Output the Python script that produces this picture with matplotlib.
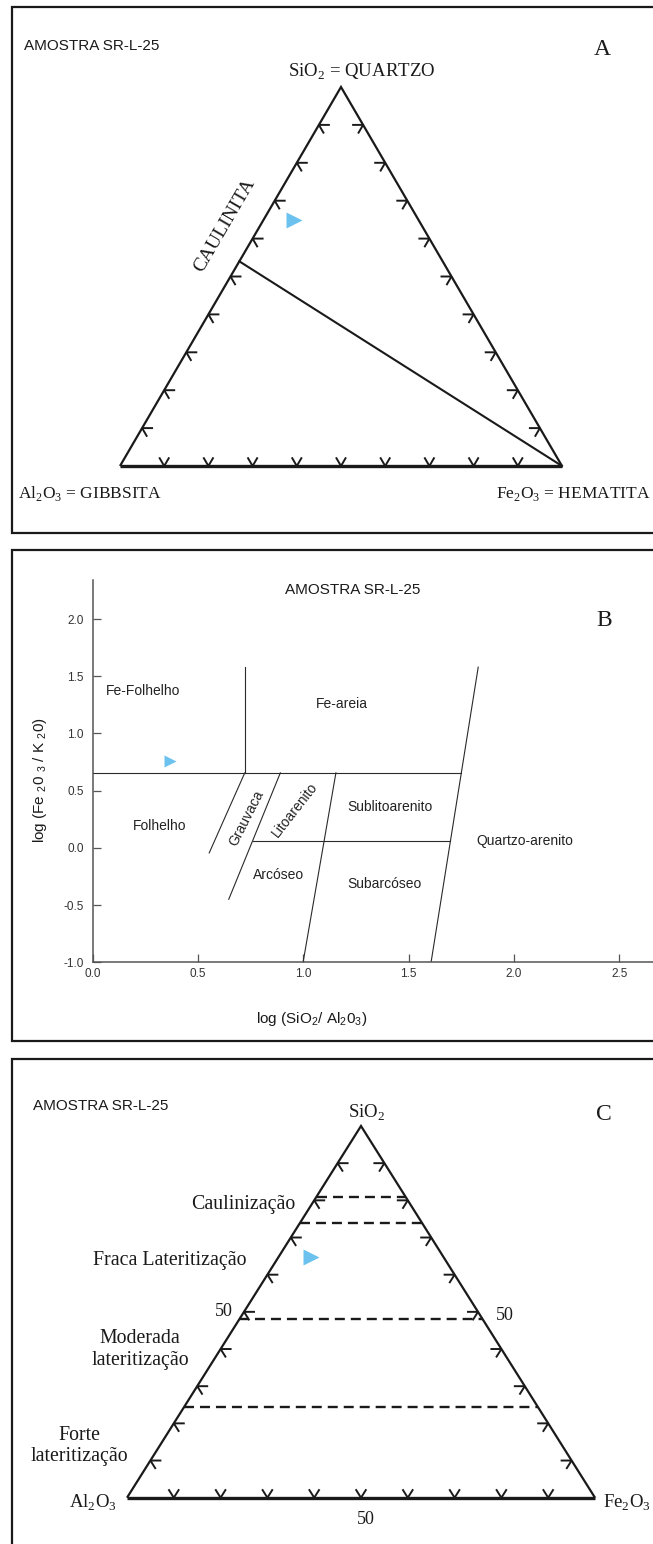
import matplotlib
matplotlib.use('Agg')
import matplotlib.pyplot as plt
import numpy as np

# ---------------- data ----------------
# Sample composition (SiO2 - Al2O3 - Fe2O3, %), panels A and C
sample_sio2 = [64.8]
sample_al2o3 = [28.3]
sample_fe2o3 = [6.9]

# Kaolinite point on SiO2-Al2O3 join joined to the Fe2O3 apex (panel A)
caulinita_sio2 = [54.0, 0.0]
caulinita_al2o3 = [46.0, 0.0]
caulinita_fe2o3 = [0.0, 100.0]

# Lateritisation limits (SiO2 %), panel C
laterite_limits_sio2 = [81.0, 74.0, 48.0, 24.5]

# Ternary tick positions (%)
tern_ticks = [10, 20, 30, 40, 50, 60, 70, 80, 90]

# Panel B : Herron (1988) classification
sample_log_si_al = [0.367]
sample_log_fe_k = [0.761]
herron_x = [[0.0, 1.75], [0.721, 0.721], [1.83, 1.606], [0.721, 0.552],
            [0.89, 0.645], [0.76, 1.698], [1.154, 0.998]]
herron_y = [[0.656, 0.656], [0.656, 1.58], [1.58, -1.0], [0.656, -0.044],
            [0.656, -0.449], [0.059, 0.059], [0.656, -1.0]]
herron_labels = ['Fe-Folhelho', 'Fe-areia', 'Folhelho', 'Grauvaca', 'Litoarenito',
                 'Sublitoarenito', 'Quartzo-arenito', 'Arcóseo', 'Subarcóseo']
herron_label_x = [0.238, 1.182, 0.317, 0.727, 0.96, 1.411, 2.053, 0.882, 1.383]
herron_label_y = [1.374, 1.255, 0.19, 0.257, 0.336, 0.359, 0.061, -0.239, -0.318]
herron_label_rot = [0, 0, 0, 63, 52, 0, 0, 0, 0]
b_xticks = [0.0, 0.5, 1.0, 1.5, 2.0, 2.5]
b_yticks = [-1.0, -0.5, 0.0, 0.5, 1.0, 1.5, 2.0]

# ---------------- style ----------------
W, H = 653, 1544
SANS = 'Liberation Sans'
SERIF = 'Liberation Serif'
INK = '#1a1a1a'
BLUE = '#6cc2ee'
plt.rcParams['axes.unicode_minus'] = False
plt.rcParams['lines.scale_dashes'] = False

fig = plt.figure(figsize=(W / 100, H / 100), dpi=100)
bg = fig.add_axes([0, 0, 1, 1], zorder=0)
bg.set_xlim(0, W)
bg.set_ylim(H, 0)
bg.axis('off')

# panel frames
for top, bot in [(7, 533), (550, 1041), (1059, 1560)]:
    bg.plot([665, 12, 12, 665], [top, top, bot, bot], color=INK, lw=1.6,
            solid_joinstyle='miter')


def to_xy(si, al, fe):
    si, al, fe = np.asarray(si, float), np.asarray(al, float), np.asarray(fe, float)
    s = si + al + fe
    return fe / s + 0.5 * si / s, si / s


def tern_axes(bl_x, br_x, base_y, apex_y):
    ax = fig.add_axes([bl_x / W, 1 - base_y / H, (br_x - bl_x) / W, (base_y - apex_y) / H],
                      zorder=2)
    ax.set_xlim(0, 1)
    ax.set_ylim(0, 1)
    ax.axis('off')
    ax.patch.set_alpha(0)
    return ax, br_x - bl_x, base_y - apex_y


def draw_triangle(ax, wpx, hpx):
    ax_, ay_ = to_xy(100, 0, 0)
    lx, ly = to_xy(0, 100, 0)
    rx, ry = to_xy(0, 0, 100)
    ax.plot([lx, ax_, rx], [ly, ay_, ry], color=INK, lw=1.6, clip_on=False,
            solid_joinstyle='miter', solid_capstyle='butt')
    ax.plot([lx, rx], [ly, ry], color=INK, lw=2.4, clip_on=False, solid_capstyle='butt')

    def pdir(dxp, dyp, L):
        n = np.hypot(dxp, dyp)
        return dxp / n * L / wpx, dyp / n * L / hpx

    kw = dict(color=INK, lw=1.4, clip_on=False, solid_joinstyle='miter')
    for t in tern_ticks:
        # left side (SiO2 - Al2O3)
        x0, y0 = to_xy(t, 100 - t, 0)
        hx, hy = pdir(1, 0, 10)
        dx, dy = pdir(0.5 * wpx, -hpx, 9)
        ax.plot([x0 + hx, x0, x0 + dx], [y0 + hy, y0, y0 + dy], **kw)
        # right side (SiO2 - Fe2O3)
        x0, y0 = to_xy(t, 0, 100 - t)
        hx, hy = pdir(-1, 0, 10)
        dx, dy = pdir(-0.5 * wpx, -hpx, 9)
        ax.plot([x0 + hx, x0, x0 + dx], [y0 + hy, y0, y0 + dy], **kw)
        # base (Al2O3 - Fe2O3)
        x0, y0 = to_xy(0, 100 - t, t)
        ax_l, ay_l = pdir(-0.5 * wpx, hpx, 9)
        ax_r, ay_r = pdir(0.5 * wpx, hpx, 9)
        ax.plot([x0 + ax_l, x0, x0 + ax_r], [y0 + ay_l, y0, y0 + ay_r], **kw)


def sub(n):
    return r'$_{\mathregular{%s}}$' % n


# ================= Panel A =================
axA, wA, hA = tern_axes(120, 562, 466, 87)
draw_triangle(axA, wA, hA)
cx, cy = to_xy(caulinita_sio2, caulinita_al2o3, caulinita_fe2o3)
axA.plot(cx, cy, color=INK, lw=1.5, clip_on=False)
sx, sy = to_xy(sample_sio2, sample_al2o3, sample_fe2o3)
axA.plot(sx, sy, ls='none', marker='>', ms=12, color=BLUE, mec='none', clip_on=False)

bg.text(24, 50, 'AMOSTRA SR-L-25', family=SANS, fontsize=11, ha='left', va='baseline', color=INK)
bg.text(602, 55, 'A', family=SERIF, fontsize=17, ha='center', va='baseline', color=INK)
bg.text(288, 76.5, 'SiO' + sub(2) + ' = QUARTZO', family=SERIF, fontsize=13.5,
        ha='left', va='baseline', color=INK)
bg.text(225, 225, 'CAULINITA', family=SERIF, fontsize=14, rotation=np.degrees(np.arctan2(hA, 0.5 * wA)),
        ha='center', va='center', rotation_mode='anchor', color=INK)
bg.text(18, 498, 'Al' + sub(2) + 'O' + sub(3) + ' = GIBBSITA', family=SERIF, fontsize=12.5,
        ha='left', va='baseline', color=INK)
bg.text(651, 498, 'Fe' + sub(2) + 'O' + sub(3) + ' = HEMATITA', family=SERIF, fontsize=12.5,
        ha='right', va='baseline', color=INK)

# ================= Panel B =================
px_per_x, px_per_y = 210.5, 114.4
x0p, y0p = 93, 962.3
xmax, ymax = 2.7, 2.34
axB = fig.add_axes([x0p / W, 1 - y0p / H, xmax * px_per_x / W, (ymax + 1) * px_per_y / H], zorder=2)
axB.patch.set_alpha(0)
axB.set_xlim(0, xmax)
axB.set_ylim(-1, ymax)
for s in ['top', 'right']:
    axB.spines[s].set_visible(False)
for s in ['left', 'bottom']:
    axB.spines[s].set_color('#555555')
    axB.spines[s].set_linewidth(1.1)
axB.set_xticks(b_xticks)
axB.set_xticklabels(['%.1f' % v for v in b_xticks])
axB.set_yticks(b_yticks)
axB.set_yticklabels(['%.1f' % v for v in b_yticks])
axB.tick_params(axis='both', direction='in', length=6, width=0.9, color='#555555',
                labelsize=8.5, labelcolor='#333333')
axB.tick_params(axis='y', pad=6.5)
axB.tick_params(axis='x', pad=4)
for lab in axB.get_xticklabels() + axB.get_yticklabels():
    lab.set_family(SANS)
for xs, ys in zip(herron_x, herron_y):
    axB.plot(xs, ys, color='#2a2a2a', lw=0.8)
for lab, lx, ly, rot in zip(herron_labels, herron_label_x, herron_label_y, herron_label_rot):
    axB.text(lx, ly, lab, family=SANS, fontsize=10, ha='center', va='center',
             rotation=rot, rotation_mode='anchor', color='#222222')
axB.plot(sample_log_si_al, sample_log_fe_k, ls='none', marker='>', ms=8, color=BLUE, mec='none')

bg.text(352.7, 594, 'AMOSTRA SR-L-25', family=SANS, fontsize=11, ha='center', va='baseline', color=INK)
bg.text(604, 626.5, 'B', family=SERIF, fontsize=17, ha='center', va='baseline', color=INK)
bg.text(40, 780, 'log (Fe ' + sub(2) + '0 ' + sub(3) + ' / K ' + sub(2) + '0)', family=SANS,
        fontsize=11, rotation=90, ha='center', va='center', color=INK)
bg.text(312, 1019, 'log (SiO' + sub(2) + '/ Al' + sub(2) + '0' + sub(3) + ')', family=SANS,
        fontsize=11, ha='center', va='center', color=INK)

# ================= Panel C =================
axC, wC, hC = tern_axes(127, 595, 1497.7, 1126)
draw_triangle(axC, wC, hC)
for s in laterite_limits_sio2:
    lx, ly = to_xy(s, 100 - s, 0)
    rx, ry = to_xy(s, 0, 100 - s)
    axC.plot([lx, rx], [ly, ry], color=INK, lw=1.7, dashes=(7.2, 4.3), clip_on=False)
sx, sy = to_xy(sample_sio2, sample_al2o3, sample_fe2o3)
axC.plot(sx, sy, ls='none', marker='>', ms=12, color=BLUE, mec='none', clip_on=False)

bg.text(33, 1110, 'AMOSTRA SR-L-25', family=SANS, fontsize=11, ha='left', va='baseline', color=INK)
bg.text(604, 1120, 'C', family=SERIF, fontsize=17, ha='center', va='baseline', color=INK)
bg.text(367, 1118, 'SiO' + sub(2), family=SERIF, fontsize=13.5, ha='center', va='baseline', color=INK)
bg.text(243, 1209, 'Caulinização', family=SERIF, fontsize=14.3, ha='center', va='baseline', color=INK)
bg.text(169.5, 1265, 'Fraca Lateritização', family=SERIF, fontsize=14.3, ha='center', va='baseline', color=INK)
bg.text(224, 1315.7, '50', family=SERIF, fontsize=13, ha='center', va='baseline', color=INK)
bg.text(505, 1320, '50', family=SERIF, fontsize=13, ha='center', va='baseline', color=INK)
bg.text(366, 1524, '50', family=SERIF, fontsize=13, ha='center', va='baseline', color=INK)
bg.text(140, 1343.3, 'Moderada', family=SERIF, fontsize=14.3, ha='center', va='baseline', color=INK)
bg.text(140, 1365, 'lateritização', family=SERIF, fontsize=14.3, ha='center', va='baseline', color=INK)
bg.text(79, 1440, 'Forte', family=SERIF, fontsize=14.3, ha='center', va='baseline', color=INK)
bg.text(79, 1460.7, 'lateritização', family=SERIF, fontsize=14.3, ha='center', va='baseline', color=INK)
bg.text(117, 1507.7, 'Al' + sub(2) + 'O' + sub(3), family=SERIF, fontsize=13.5, ha='right', va='baseline', color=INK)
bg.text(651, 1507.7, 'Fe' + sub(2) + 'O' + sub(3), family=SERIF, fontsize=13.5, ha='right', va='baseline', color=INK)

fig.savefig('out.png', dpi=100)
